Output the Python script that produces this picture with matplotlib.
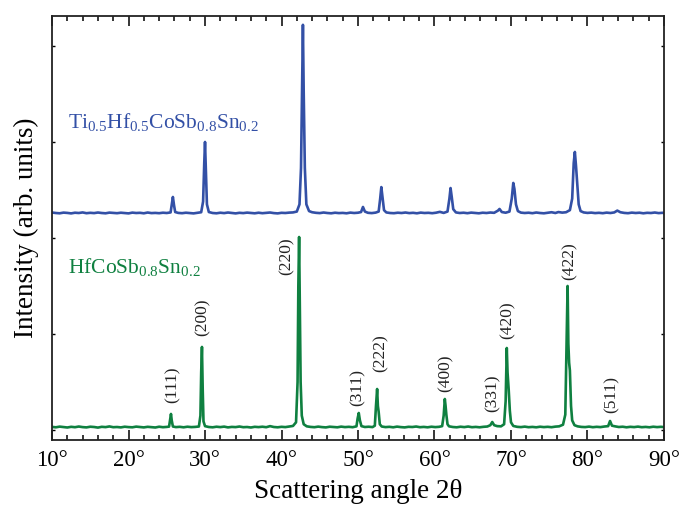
import matplotlib.pyplot as plt
from matplotlib.ticker import MultipleLocator

plt.rcParams['font.family'] = ['Liberation Serif', 'DejaVu Serif']
plt.rcParams['mathtext.fontset'] = 'custom'
plt.rcParams['mathtext.rm'] = 'Liberation Serif'
plt.rcParams['mathtext.it'] = 'Liberation Serif:italic'

# HfCoSb0.8Sn0.2 (green)
green_x = [10.0, 10.5, 11.0, 11.5, 12.0, 12.5, 13.0, 13.5, 14.0, 14.5, 15.0, 15.5, 16.0, 16.5,
           17.0, 17.5, 18.0, 18.5, 19.0, 19.5, 20.0, 20.5, 21.0, 21.5, 22.0, 22.5, 23.0, 23.5,
           24.0, 24.5, 25.0, 25.3, 25.45, 25.55, 25.65, 25.8, 26.2, 26.7, 27.2, 27.7, 28.2, 28.7,
           29.2, 29.4, 29.5, 29.6, 29.7, 29.8, 30.0, 30.5, 31.0, 31.5, 32.0, 32.5, 33.0, 33.5,
           34.0, 34.5, 35.0, 35.5, 36.0, 36.5, 37.0, 37.5, 38.0, 38.5, 39.0, 39.5, 40.0, 40.5,
           41.0, 41.5, 41.9, 42.1, 42.2, 42.3, 42.4, 42.5, 42.65, 42.9, 43.3, 43.8, 44.3, 44.8,
           45.3, 45.8, 46.3, 46.8, 47.3, 47.8, 48.3, 48.8, 49.3, 49.8, 49.95, 50.1, 50.25, 50.45,
           50.9, 51.4, 51.9, 52.2, 52.35, 52.5, 52.6, 52.7, 52.85, 53.1, 53.6, 54.1, 54.6, 55.1,
           55.6, 56.1, 56.6, 57.1, 57.6, 58.1, 58.6, 59.1, 59.6, 60.1, 60.6, 61.0, 61.2, 61.35,
           61.45, 61.55, 61.7, 61.9, 62.4, 62.9, 63.4, 63.9, 64.4, 64.9, 65.4, 65.9, 66.4, 66.9,
           67.3, 67.55, 67.8, 68.2, 68.7, 69.1, 69.3, 69.45, 69.55, 69.7, 69.85, 70.0, 70.3, 70.8,
           71.3, 71.8, 72.3, 72.8, 73.3, 73.8, 74.3, 74.8, 75.3, 75.8, 76.3, 76.8, 77.1, 77.25,
           77.4, 77.5, 77.6, 77.7, 77.85, 78.0, 78.3, 78.7, 79.2, 79.7, 80.2, 80.7, 81.2, 81.7,
           82.2, 82.7, 82.95, 83.2, 83.6, 84.1, 84.6, 85.1, 85.6, 86.1, 86.6, 87.1, 87.6, 88.1,
           88.6, 89.1, 89.6, 90.0]
green_y = [32, 28, 35, 30, 26, 33, 29, 36, 30, 27, 34, 31, 25, 33,
           30, 37, 29, 31, 27, 34, 30, 28, 35, 31, 27, 33, 30, 26,
           34, 29, 32, 35, 110, 167, 100, 36, 30, 33, 28, 34, 30, 32,
           36, 150, 600, 865, 420, 90, 40, 31, 28, 34, 30, 35, 27, 32,
           30, 36, 29, 31, 26, 33, 30, 34, 29, 40, 31, 28, 33, 30,
           36, 42, 80, 500, 1500, 2010, 1200, 500, 150, 60, 38, 32, 29, 35,
           30, 27, 34, 31, 28, 35, 30, 33, 29, 38, 120, 177, 100, 40,
           31, 34, 30, 45, 250, 427, 250, 190, 60, 36, 30, 33, 28, 35,
           30, 27, 33, 31, 36, 29, 32, 28, 34, 30, 33, 40, 150, 323,
           250, 160, 60, 38, 31, 28, 34, 30, 36, 29, 32, 28, 33, 36,
           50, 83, 50, 40, 38, 60, 300, 854, 600, 420, 200, 80, 42, 33,
           30, 35, 29, 32, 28, 34, 30, 33, 29, 35, 38, 55, 160, 800,
           1500, 900, 700, 620, 250, 100, 50, 38, 32, 30, 35, 29, 33, 30,
           36, 40, 94, 45, 38, 31, 34, 28, 33, 30, 35, 29, 32, 28,
           34, 30, 33, 30]

# Ti0.5Hf0.5CoSb0.8Sn0.2 (blue), plotted with an offset
blue_x = [10.0, 10.5, 11.0, 11.5, 12.0, 12.5, 13.0, 13.5, 14.0, 14.5, 15.0, 15.5, 16.0, 16.5,
          17.0, 17.5, 18.0, 18.5, 19.0, 19.5, 20.0, 20.5, 21.0, 21.5, 22.0, 22.5, 23.0, 23.5,
          24.0, 24.5, 25.0, 25.5, 25.65, 25.8, 25.95, 26.1, 26.5, 27.0, 27.5, 28.0, 28.5, 29.0,
          29.5, 29.75, 29.9, 30.0, 30.1, 30.25, 30.5, 31.0, 31.5, 32.0, 32.5, 33.0, 33.5, 34.0,
          34.5, 35.0, 35.5, 36.0, 36.5, 37.0, 37.5, 38.0, 38.5, 39.0, 39.5, 40.0, 40.5, 41.0,
          41.5, 42.0, 42.35, 42.55, 42.7, 42.8, 42.9, 43.05, 43.25, 43.6, 44.0, 44.5, 45.0, 45.5,
          46.0, 46.5, 47.0, 47.5, 48.0, 48.5, 49.0, 49.5, 50.0, 50.4, 50.65, 50.9, 51.3, 51.8,
          52.3, 52.7, 52.9, 53.05, 53.2, 53.4, 53.7, 54.2, 54.7, 55.2, 55.7, 56.2, 56.7, 57.2,
          57.7, 58.2, 58.7, 59.2, 59.7, 60.2, 60.7, 61.2, 61.7, 61.95, 62.1, 62.25, 62.45, 62.8,
          63.3, 63.8, 64.3, 64.8, 65.3, 65.8, 66.3, 66.8, 67.3, 67.8, 68.3, 68.5, 68.8, 69.3,
          69.8, 70.1, 70.3, 70.45, 70.65, 70.9, 71.3, 71.8, 72.3, 72.8, 73.3, 73.8, 74.3, 74.8,
          75.3, 75.8, 76.2, 76.7, 77.2, 77.7, 78.0, 78.2, 78.35, 78.5, 78.65, 78.85, 79.1, 79.5,
          80.0, 80.5, 81.0, 81.5, 82.0, 82.5, 83.0, 83.5, 83.9, 84.3, 84.8, 85.3, 85.8, 86.3,
          86.8, 87.3, 87.8, 88.3, 88.8, 89.3, 89.8, 90.0]
blue_y = [35, 30, 27, 34, 31, 26, 33, 30, 36, 28, 32, 29, 35, 30,
          27, 34, 31, 28, 33, 30, 26, 34, 30, 32, 27, 35, 29, 31,
          28, 33, 30, 36, 120, 197, 110, 40, 31, 28, 33, 30, 26, 32,
          38, 150, 550, 770, 500, 120, 40, 30, 27, 33, 29, 35, 30, 26,
          32, 29, 34, 30, 27, 33, 28, 31, 35, 29, 26, 32, 30, 34,
          36, 45, 120, 500, 1400, 1990, 1300, 500, 120, 50, 38, 32, 29, 35,
          30, 27, 33, 29, 31, 27, 34, 30, 33, 40, 93, 45, 32, 29,
          34, 45, 180, 300, 200, 60, 36, 30, 28, 33, 30, 35, 29, 32,
          27, 34, 30, 32, 28, 33, 42, 31, 45, 180, 290, 200, 70, 36,
          30, 33, 28, 34, 30, 27, 33, 30, 35, 32, 55, 72, 40, 33,
          45, 180, 343, 280, 120, 50, 34, 30, 33, 28, 35, 30, 27, 33,
          38, 30, 40, 34, 38, 60, 180, 550, 666, 520, 350, 120, 50, 36,
          31, 34, 29, 32, 28, 34, 30, 36, 55, 38, 31, 28, 34, 30,
          33, 27, 32, 30, 35, 29, 32, 30]
blue_offset = 2230

# Miller indices of the green pattern: label, angle, bottom of label
hkl_labels = ['(111)', '(200)', '(220)', '(311)', '(222)', '(400)', '(331)', '(420)', '(422)', '(511)']
hkl_x = [25.8, 29.7, 40.7, 50.0, 52.9, 61.4, 67.6, 69.6, 77.7, 83.2]
hkl_y = [285, 975, 1615, 245, 600, 400, 190, 945, 1565, 180]

xticks = [10, 20, 30, 40, 50, 60, 70, 80, 90]
xtick_labels = ['10°', '20°', '30°', '40°', '50°', '60°', '70°', '80°', '90°']

blue = '#3350a6'
green = '#0f8040'

fig = plt.figure(figsize=(6.81, 5.11), dpi=100)
ax = fig.add_axes([0.0764, 0.139, 0.8986, 0.8297])

ax.plot(blue_x, [v + blue_offset for v in blue_y], color=blue, lw=1.9)
ax.plot(green_x, green_y, color=green, lw=1.9)

for lab, x, y in zip(hkl_labels, hkl_x, hkl_y):
    ax.text(x, y, lab, rotation=90, ha='center', va='bottom', fontsize=12.5, color='#222222')

ax.text(12.1, 3150, r'$\mathrm{Ti_{0.5}Hf_{0.5}CoSb_{0.8}Sn_{0.2}}$', color=blue,
        fontsize=15.5, ha='left', va='baseline')
ax.text(12.1, 1636, r'$\mathrm{HfCoSb_{0.8}Sn_{0.2}}$', color=green,
        fontsize=15.5, ha='left', va='baseline')

ax.set_xlim(10, 90)
ax.set_ylim(-104, 4312)
ax.set_xticks(xticks)
ax.set_xticklabels(xtick_labels)
ax.xaxis.set_minor_locator(MultipleLocator(2))
ax.set_yticks([0, 1000, 2000, 3000, 4000])
ax.set_yticklabels([])

ax.tick_params(axis='x', which='major', direction='in', length=7, width=1.1,
               top=True, labelsize=16.5, pad=7)
ax.tick_params(axis='x', which='minor', direction='in', length=3.6, width=1.1, top=True)
ax.tick_params(axis='y', which='major', direction='in', length=2.5, width=1.0, right=True)
for s in ax.spines.values():
    s.set_linewidth(1.3)
    s.set_color('#222222')

ax.set_xlabel('Scattering angle 2θ', fontsize=19.5, labelpad=6)
ax.set_ylabel('Intensity (arb. units)', fontsize=19.5, labelpad=6)

fig.savefig('out.png', dpi=100)
